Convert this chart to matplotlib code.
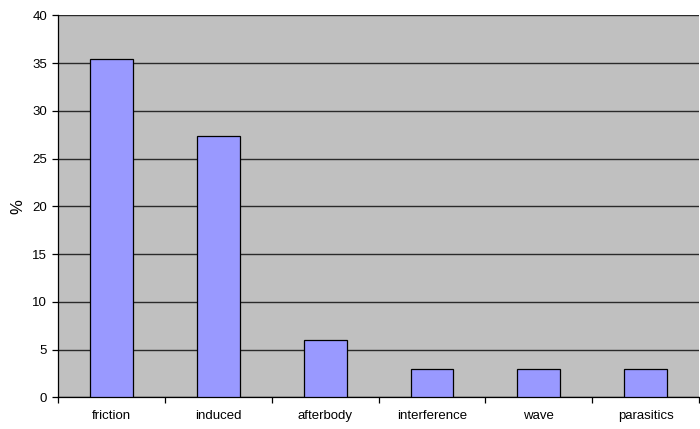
import numpy as np
import matplotlib.pyplot as plt

plt.rcParams['font.family'] = ['Liberation Sans', 'DejaVu Sans']

categories = ["friction", "induced", "afterbody", "interference", "wave", "parasitics"]
values = [35.4, 27.4, 6.0, 3.0, 3.0, 3.0]

fig = plt.figure(figsize=(7, 4.29), dpi=100)
ax = fig.add_axes([0.0833, 0.074, 0.9153, 0.890])
ax.set_facecolor("#C0C0C0")

x = np.arange(len(categories))
ax.bar(x, values, width=0.4, color="#9999FF", edgecolor="black", linewidth=0.9, zorder=3)

ax.set_xlim(-0.5, len(categories) - 0.5)
ax.set_ylim(0, 40)
ax.set_yticks(np.arange(0, 41, 5))
ax.yaxis.grid(True, color="#2a2a2a", linewidth=1.0, zorder=1)
ax.set_axisbelow(True)

# category labels centred under bars, tick marks between categories
ax.set_xticks(x)
ax.set_xticklabels(categories, fontsize=9.5)
ax.tick_params(axis="x", length=0, pad=9)
ax.set_xticks(np.arange(-0.5, len(categories), 1), minor=True)
ax.tick_params(axis="x", which="minor", length=4, width=0.9, direction="out")
ax.tick_params(axis="y", length=4, width=0.9, labelsize=9.5, pad=4)

for s in ["top", "right"]:
    ax.spines[s].set_visible(False)
ax.spines["left"].set_linewidth(0.9)
ax.spines["bottom"].set_linewidth(0.9)

ax.set_ylabel("%", fontsize=12, labelpad=5)

fig.savefig("out.png", dpi=100)
